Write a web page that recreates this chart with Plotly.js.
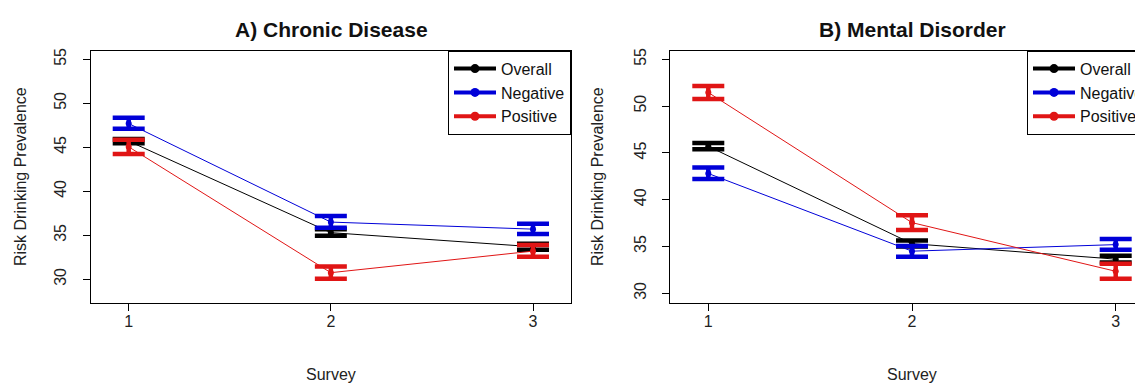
<!DOCTYPE html>
<html>
<head>
<meta charset="utf-8">
<script src="https://cdn.plot.ly/plotly-3.0.1.min.js"></script>
<style>
html, body { margin:0; padding:0; background:#fff; overflow:hidden; width:1135px; height:383px; }
#wrap { width:1135px; height:383px; overflow:hidden; position:relative; }
#chart { width:1160px; height:383px; }
</style>
</head>
<body>
<div id="wrap"><div id="chart"></div></div>
<script>
// ---- data ----
const surveys = [1, 2, 3];
const seriesNames = ['Overall', 'Negative', 'Positive'];

// A) Chronic Disease
const cdOverallMean  = [45.70, 35.30, 33.70];
const cdOverallLo    = [45.45, 34.95, 33.35];
const cdOverallHi    = [45.95, 35.70, 34.05];
const cdNegativeMean = [47.70, 36.50, 35.70];
const cdNegativeLo   = [47.10, 35.85, 35.15];
const cdNegativeHi   = [48.35, 37.20, 36.30];
const cdPositiveMean = [45.05, 30.75, 33.20];
const cdPositiveLo   = [44.25, 30.05, 32.55];
const cdPositiveHi   = [45.85, 31.45, 33.90];

// B) Mental Disorder
const mdOverallMean  = [45.70, 35.30, 33.65];
const mdOverallLo    = [45.40, 35.00, 33.30];
const mdOverallHi    = [46.05, 35.65, 34.00];
const mdNegativeMean = [42.80, 34.50, 35.20];
const mdNegativeLo   = [42.20, 33.90, 34.65];
const mdNegativeHi   = [43.45, 35.05, 35.80];
const mdPositiveMean = [51.45, 37.55, 32.35];
const mdPositiveLo   = [50.75, 36.75, 31.55];
const mdPositiveHi   = [52.15, 38.35, 33.15];

const yTicks = [30, 35, 40, 45, 50, 55];
const xTickLabels = ['1', '2', '3'];

// ---- styling ----
const colors = ['#000000', '#0000D8', '#E01515'];
const FONT = 'Liberation Sans, Arial, Helvetica, sans-serif';
const W = 1160, H = 383;

function ciTrace(mean, lo, hi, color, xa, ya) {
  return {
    x: surveys, y: mean, xaxis: xa, yaxis: ya,
    mode: 'lines+markers',
    line: { color: color, width: 1 },
    marker: { color: color, size: 6 },
    showlegend: false, hoverinfo: 'skip',
    error_y: {
      type: 'data', symmetric: false,
      array: hi.map((h, i) => h - mean[i]),
      arrayminus: lo.map((l, i) => mean[i] - l),
      color: color, thickness: 4.5, width: 16
    }
  };
}
function legendTrace(name, color, xa, ya, leg) {
  return {
    x: [null], y: [null], xaxis: xa, yaxis: ya, name: name,
    mode: 'lines+markers', line: { color: color, width: 4 },
    marker: { color: color, size: 9 }, legend: leg, showlegend: true
  };
}

const data = [
  ciTrace(cdOverallMean, cdOverallLo, cdOverallHi, colors[0], 'x', 'y'),
  ciTrace(cdNegativeMean, cdNegativeLo, cdNegativeHi, colors[1], 'x', 'y'),
  ciTrace(cdPositiveMean, cdPositiveLo, cdPositiveHi, colors[2], 'x', 'y'),
  ciTrace(mdOverallMean, mdOverallLo, mdOverallHi, colors[0], 'x2', 'y2'),
  ciTrace(mdNegativeMean, mdNegativeLo, mdNegativeHi, colors[1], 'x2', 'y2'),
  ciTrace(mdPositiveMean, mdPositiveLo, mdPositiveHi, colors[2], 'x2', 'y2')
];
seriesNames.forEach((n, i) => data.push(legendTrace(n, colors[i], 'x', 'y', 'legend')));
seriesNames.forEach((n, i) => data.push(legendTrace(n, colors[i], 'x2', 'y2', 'legend2')));

const yDom = [1 - 303.3 / H, 1 - 50.7 / H];
function xAxis(dom) {
  return {
    domain: dom, range: [0.812, 3.188], tickvals: surveys, ticktext: xTickLabels,
    ticks: 'outside', ticklen: 7, tickwidth: 1, tickcolor: '#000',
    showline: true, linecolor: '#000', linewidth: 1, mirror: true,
    showgrid: false, zeroline: false, ticklabelstandoff: -4,
    tickfont: { family: FONT, size: 16, color: '#222' }
  };
}
function yAxis(range, anchor) {
  return {
    domain: yDom, range: range, anchor: anchor, tickvals: yTicks, tickangle: -90,
    ticks: 'outside', ticklen: 7, tickwidth: 1, tickcolor: '#000',
    showline: true, linecolor: '#000', linewidth: 1, mirror: true,
    showgrid: false, zeroline: false, ticklabelstandoff: 10,
    tickfont: { family: FONT, size: 16, color: '#222' }
  };
}
const legendStyle = {
  bgcolor: '#fff', bordercolor: '#000', borderwidth: 1,
  font: { family: FONT, size: 16, color: '#111' },
  y: yDom[1], yanchor: 'top', tracegroupgap: 0, itemwidth: 42
};

const titleFont = { family: FONT, size: 21, color: '#111' };
const labFont = { family: FONT, size: 16, color: '#222' };
const ann = (text, px, py, font, angle) => ({
  text: text, xref: 'paper', yref: 'paper', x: px / W, y: 1 - py / H,
  xanchor: 'center', yanchor: 'middle', showarrow: false, font: font, textangle: angle || 0
});

const layout = {
  width: W, height: H,
  margin: { l: 0, r: 0, t: 0, b: 0 },
  paper_bgcolor: '#fff', plot_bgcolor: '#fff',
  xaxis: Object.assign(xAxis([90.7 / W, 571 / W]), { anchor: 'y' }),
  yaxis: yAxis([27.27, 55.98], 'x'),
  xaxis2: Object.assign(xAxis([670 / W, 1154 / W]), { anchor: 'y2' }),
  yaxis2: yAxis([28.93, 55.92], 'x2'),
  legend: Object.assign({ x: 571 / W, xanchor: 'right' }, legendStyle),
  legend2: Object.assign({ x: 1027 / W, xanchor: 'left' }, legendStyle),
  annotations: [
    ann('<b>A) Chronic Disease</b>', 331, 29, titleFont),
    ann('<b>B) Mental Disorder</b>', 912, 29, titleFont),
    ann('Survey', 331, 374, labFont),
    ann('Survey', 912, 374, labFont),
    ann('Risk Drinking Prevalence', 20, 177, labFont, -90),
    ann('Risk Drinking Prevalence', 597, 177, labFont, -90)
  ]
};

Plotly.newPlot('chart', data, layout, { displayModeBar: false, staticPlot: true });
</script>
</body>
</html>
